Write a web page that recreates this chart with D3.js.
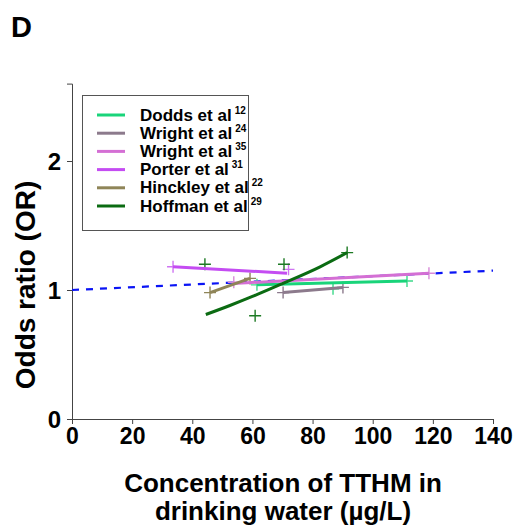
<!DOCTYPE html>
<html>
<head>
<meta charset="utf-8">
<script src="https://d3js.org/d3.v7.min.js"></script>
<style>
  body { margin: 0; background: #fff; }
  text { font-family: Arial, "Liberation Sans", sans-serif; font-weight: bold; }
</style>
</head>
<body>
<div id="vis"></div>
<script>
// chart data
const xTicks = [0, 20, 40, 60, 80, 100, 120, 140]
const yTicks = [0, 1, 2]

const studyNames = ['Dodds et al', 'Wright et al', 'Wright et al', 'Porter et al', 'Hinckley et al', 'Hoffman et al']
const studyRefs = ['12', '24', '35', '31', '22', '29']
const studyColors = ['#19d47a', '#8c7a8c', '#d46fd4', '#c44cf2', '#8f8558', '#0b6b12']
const crossColors = ['#3cd98a', '#8c7a8c', '#d88ad8', '#cf74f2', '#8f8558', '#1d7a24']

// fitted lines (concentration, OR)
const doddsLine = [[61.5, 1.04], [111.4, 1.07]]
const wright24Line = [[70.2, 0.98], [90.1, 1.02]]
const wright35Line = [[53.5, 1.05], [118.7, 1.13]]
const porterLine = [[33.6, 1.18], [71.5, 1.13]]
const hinckleyLine = [[45.9, 0.98], [59.2, 1.09]]
const hoffmanLine = [[44.5, 0.81], [52.5, 0.88], [60, 0.95], [70, 1.05], [82.5, 1.18], [91.5, 1.29]]

// study points (+ markers)
const doddsPts = [[61.5, 1.04], [86.8, 1.01], [111.4, 1.07]]
const wright24Pts = [[70.2, 0.98], [90.1, 1.02]]
const wright35Pts = [[53.8, 1.06], [118.7, 1.13]]
const porterPts = [[33.6, 1.18], [72, 1.16]]
const hinckleyPts = [[45.9, 0.98], [59.2, 1.09]]
const hoffmanPts = [[44.2, 1.2], [60.9, 0.8], [70.5, 1.2], [91.5, 1.29]]

// pooled reference line (dashed blue)
const pooledLine = [[0, 1.0], [140, 1.15]]

const allLines = [doddsLine, wright24Line, wright35Line, porterLine, hinckleyLine, hoffmanLine]
const allPts = [doddsPts, wright24Pts, wright35Pts, porterPts, hinckleyPts, hoffmanPts]

const width = 517, height = 528

const svg = d3.select('#vis')
    .append('svg')
    .attr('width', width)
    .attr('height', height)

const xScale = d3.scaleLinear().domain([0, 140]).range([72, 493])
const yScale = d3.scaleLinear().domain([0, 2.6]).range([419, 83.6])

// axes
const xAxis = d3.axisBottom(xScale).tickValues(xTicks).tickFormat(d3.format('d')).tickSize(5).tickPadding(4)
const gx = svg.append('g')
    .attr('transform', `translate(0,${yScale(0)})`)
    .call(xAxis)
gx.selectAll('text').style('font-size', '23px').attr('fill', '#000')

const yAxis = d3.axisLeft(yScale).tickValues(yTicks).tickFormat(d3.format('d')).tickSize(5).tickPadding(6)
const gy = svg.append('g')
    .attr('transform', `translate(${xScale(0)},0)`)
    .call(yAxis)
gy.selectAll('text').style('font-size', '24px').attr('fill', '#000').attr('dy', '0.36em')

svg.selectAll('.domain, .tick line').attr('stroke', '#444').attr('stroke-width', 1)

const line = d3.line().x(d => xScale(d[0])).y(d => yScale(d[1]))
const curve = d3.line().curve(d3.curveMonotoneX).x(d => xScale(d[0])).y(d => yScale(d[1]))

// pooled dashed line
svg.append('path')
    .attr('d', line(pooledLine))
    .attr('fill', 'none')
    .attr('stroke', '#0a14f5')
    .attr('stroke-width', 2.2)
    .attr('stroke-dasharray', '7,7')

// crosses
allPts.forEach((pts, i) => {
    svg.selectAll('.cross' + i)
        .data(pts)
        .enter()
        .append('path')
        .attr('class', 'cross' + i)
        .attr('d', d => {
            const x = xScale(d[0]), y = yScale(d[1])
            return `M${x - 6},${y}H${x + 6}M${x},${y - 6}V${y + 6}`
        })
        .attr('stroke', crossColors[i])
        .attr('stroke-width', 1.4)
        .attr('fill', 'none')
})

// study lines
allLines.forEach((pts, i) => {
    svg.append('path')
        .attr('d', (i == 5 ? curve : line)(pts))
        .attr('fill', 'none')
        .attr('stroke', studyColors[i])
        .attr('stroke-width', 3)
})

// legend
const legend = svg.append('g')
legend.append('rect')
    .attr('x', 82.5).attr('y', 95.5)
    .attr('width', 166).attr('height', 135)
    .attr('fill', '#fff')
    .attr('stroke', '#555')
    .attr('stroke-width', 1)

studyNames.forEach((name, i) => {
    const y = 115 + i * 18.2
    legend.append('line')
        .attr('x1', 97).attr('x2', 125)
        .attr('y1', y).attr('y2', y)
        .attr('stroke', studyColors[i])
        .attr('stroke-width', 3)
    const t = legend.append('text')
        .attr('x', 140).attr('y', y + 5.5)
        .style('font-size', '17px')
        .attr('fill', '#000')
    t.append('tspan').text(name)
    t.append('tspan').text(studyRefs[i])
        .attr('dx', 3).attr('dy', -7)
        .style('font-size', '10px')
})

// panel letter
svg.append('text')
    .attr('x', 11).attr('y', 37)
    .style('font-size', '29px')
    .text('D')

// axis titles
svg.append('text')
    .attr('transform', 'translate(35,285) rotate(-90)')
    .attr('text-anchor', 'middle')
    .style('font-size', '28px')
    .text('Odds ratio (OR)')

svg.append('text')
    .attr('x', 283).attr('y', 492)
    .attr('text-anchor', 'middle')
    .style('font-size', '26px')
    .text('Concentration of TTHM in')

svg.append('text')
    .attr('x', 283).attr('y', 520)
    .attr('text-anchor', 'middle')
    .style('font-size', '26px')
    .text('drinking water (µg/L)')
</script>
</body>
</html>
